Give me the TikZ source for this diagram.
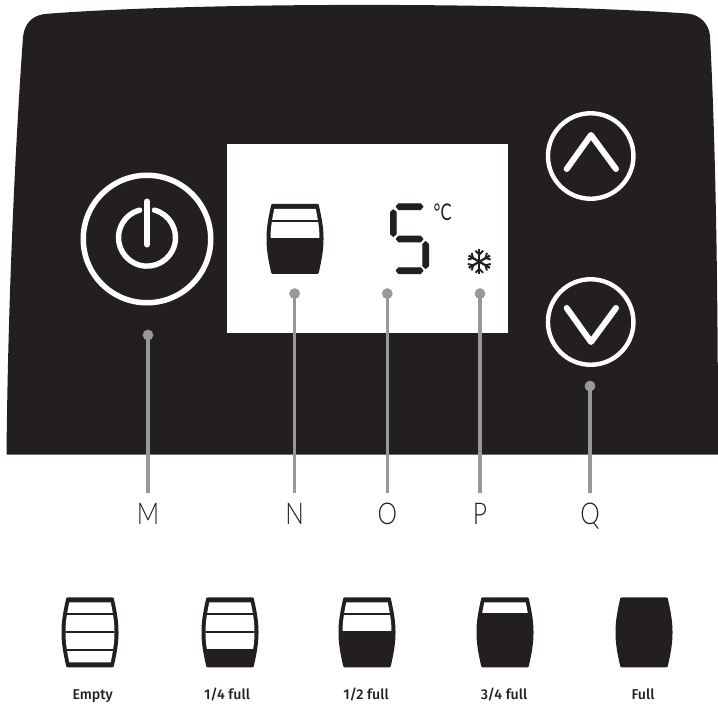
\documentclass[tikz,border=0pt]{standalone}
\usepackage{fontspec}
\setmainfont{Lato}
\newfontfamily\thinfont{Lato Light}
\newfontfamily\capfont{Fira Sans Medium}
\definecolor{panelblack}{HTML}{231F20}
\definecolor{pingray}{HTML}{97989C}
\tikzset{
  px/.style={x=1pt,y=-1pt},
  ring/.style={circle,draw=white,fill=none,inner sep=0pt},
  glyphline/.style={draw=white,line cap=round,line join=round},
  pindot/.style={circle,fill=pingray,inner sep=0pt,minimum size=10.8pt},
  pinline/.style={draw=pingray,line width=3.2pt},
  pinlabel/.style={anchor=base,inner xsep=0pt,inner ysep=9.5pt,text height=21.3pt,font=\thinfont\fontsize{30}{30}\selectfont,text=panelblack,xscale=0.82,transform shape},
  barrelcap/.style={anchor=base,inner sep=0pt,font=\capfont\fontsize{14.2}{15}\selectfont,text=panelblack},
  seg/.style={fill=panelblack,draw=panelblack,line width=1pt,line join=round}
}
% #1 centre x, #2 centre y, #3 white level, #4 list of divider offsets
\newcommand{\barrelicon}[4]{%
  \begin{scope}[shift={(#1,#2)}]
    \fill[panelblack,rounded corners=1pt] (-23.5,-35) .. controls (-27,-20) and (-28.5,-10) .. (-28.5,0)
      .. controls (-28.5,10) and (-27,20) .. (-23.5,35) -- (23.5,35)
      .. controls (27,20) and (28.5,10) .. (28.5,0) .. controls (28.5,-10) and (27,-20) .. (23.5,-35) -- cycle;
    \begin{scope}
      \clip (-20.7,-30) .. controls (-23.3,-18) and (-24.5,-9) .. (-24.5,0)
        .. controls (-24.5,9) and (-23.3,18) .. (-20.7,30) -- (20.7,30)
        .. controls (23.3,18) and (24.5,9) .. (24.5,0) .. controls (24.5,-9) and (23.3,-18) .. (20.7,-30) -- cycle;
      \fill[white] (-30,-35) rectangle (30,#3);
      \foreach \d in {#4} {\draw[panelblack,line width=1.8pt] (-30,\d) -- (30,\d);}
    \end{scope}
  \end{scope}}
\begin{document}
\begin{tikzpicture}[px]
\useasboundingbox (0,0) rectangle (718,705);
% panel
\fill[panelblack] (6.5,454.5) .. controls (8,300) and (15,150) .. (23,37)
  .. controls (24.5,22) and (34,14.5) .. (47,13.8)
  .. controls (200,2) and (520,2) .. (687,13.5)
  .. controls (700,14.5) and (709,24) .. (710,36)
  .. controls (716,150) and (718,300) .. (718,454.5) -- cycle;
% display
\fill[white] (227,144) rectangle (508,333);
% power button
\node[ring,line width=5.5pt,minimum size=127.5pt] (power) at (147,239) {};
\draw[glyphline,line width=5.4pt] (154.4,210.1) arc[start angle=285,end angle=615,radius=28.5];
\draw[glyphline,line width=6pt] (147,201.5) -- (147,244.5);
% arrow buttons
\node[ring,line width=4.4pt,minimum size=85.5pt] (up) at (590.7,156) {};
\draw[glyphline,line width=6pt] (566.7,169) -- (591,135) -- (616,169);
\node[ring,line width=4.4pt,minimum size=85.5pt] (down) at (590.7,322) {};
\draw[glyphline,line width=6pt] (566.7,308) -- (591,342) -- (616,308);
% display barrel
\barrelicon{295}{238.8}{-1}{-17.8}
% seven segment 5
\path[seg] (396.2,206.6) -- (398.6,203.8) -- (420.5,203.8) -- (423,206.6) -- (420.5,209.5) -- (398.6,209.5) -- cycle;
\path[seg] (393.4,209.7) -- (396.2,212.2) -- (396.2,234) -- (393.4,236.4) -- (390.5,234) -- (390.5,212.2) -- cycle;
\path[seg] (396.2,239) -- (398.6,236.2) -- (420.5,236.2) -- (423,239) -- (420.5,241.8) -- (398.6,241.8) -- cycle;
\path[seg] (425.6,241.6) -- (428.5,244.2) -- (428.5,266) -- (425.6,268.4) -- (422.8,266) -- (422.8,244.2) -- cycle;
\path[seg] (396.2,270.6) -- (398.6,267.8) -- (420.5,267.8) -- (423,270.6) -- (420.5,273.5) -- (398.6,273.5) -- cycle;
\node[anchor=base west,inner sep=0pt,text=panelblack,font=\fontsize{23}{23}\selectfont,xscale=0.72,transform shape] (unit) at (433.5,220) {°C};
% snowflake
\begin{scope}[shift={(479.3,261.7)},panelblack,line width=2.2pt]
  \foreach \a in {0,60,...,300} {
    \begin{scope}[rotate=\a]
      \draw (0,0) -- (0,-12.3);
      \draw[line width=1.9pt] (-3.8,-11) -- (0,-7.2) -- (3.8,-11);
    \end{scope}}
\end{scope}
% pins
\node[pindot] (dotM) at (148,335) {};
\node[pindot] (dotN) at (294.6,293.6) {};
\node[pindot] (dotO) at (387.3,293.6) {};
\node[pindot] (dotP) at (480,293.6) {};
\node[pindot] (dotQ) at (590,386) {};
\node[pinlabel] (labM) at (148,524) {M};
\node[pinlabel] (labN) at (294.6,524) {N};
\node[pinlabel] (labO) at (387.3,524) {O};
\node[pinlabel] (labP) at (480,524) {P};
\node[pinlabel] (labQ) at (590,524) {Q};
\foreach \k in {M,N,O,P,Q} {\draw[pinline] (dot\k.center) -- (lab\k.north);}
% barrel scale
\barrelicon{90}{632.3}{35}{-18.3,0,17.7}
\barrelicon{230}{632.3}{16.5}{-18.3,0}
\barrelicon{367}{632.3}{-1}{-18.3}
\barrelicon{505}{632.3}{-19}{}
\barrelicon{644}{632.3}{-40}{}
\node[barrelcap] (c1) at (92.7,699) {Empty};
\node[barrelcap] (c2) at (227,699) {1/4 full};
\node[barrelcap] (c3) at (366,699) {1/2 full};
\node[barrelcap] (c4) at (504,699) {3/4 full};
\node[barrelcap] (c5) at (643,699) {Full};
\end{tikzpicture}
\end{document}
